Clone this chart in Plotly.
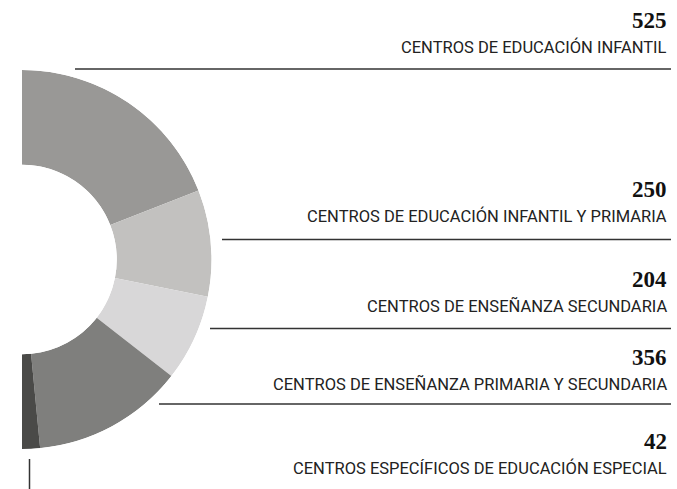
import plotly.graph_objects as go

W, H = 677, 489

labels = [
    'CENTROS DE EDUCACIÓN INFANTIL',
    'CENTROS DE EDUCACIÓN INFANTIL Y PRIMARIA',
    'CENTROS DE ENSEÑANZA SECUNDARIA',
    'CENTROS DE ENSEÑANZA PRIMARIA Y SECUNDARIA',
    'CENTROS ESPECÍFICOS DE EDUCACIÓN ESPECIAL',
]
values = [525, 250, 204, 356, 42]
colors = ['#999896', '#c2c1bf', '#d8d7d8', '#7f7f7d', '#4a4a48']

# label layout (pixel positions of number / caption / rule)
label_y = [20, 189, 279, 357, 441]
rule_y = [69, 239.5, 328.5, 404]
rule_x0 = [75, 222, 210, 159]


def px(x):
    return x / W


def py(y):
    return 1 - y / H


total = sum(values)
widths = [v / total * 180 for v in values]
thetas = []
acc = 0
for w in widths:
    thetas.append(acc + w / 2)
    acc += w

fig = go.Figure(go.Barpolar(
    r=[1] * len(values),
    theta=thetas,
    width=widths,
    marker=dict(color=colors, line=dict(width=0)),
    hoverinfo='skip',
))

fig.update_layout(
    width=W, height=H,
    margin=dict(t=0, r=0, b=0, l=0),
    paper_bgcolor='white',
    plot_bgcolor='white',
    showlegend=False,
    polar=dict(
        domain=dict(x=[px(22), px(211.5)], y=[py(449), py(70)]),
        sector=[-90, 90],
        hole=0.5,
        bgcolor='rgba(0,0,0,0)',
        radialaxis=dict(visible=False, range=[0, 1]),
        angularaxis=dict(
            visible=False, rotation=90, direction='clockwise',
            showgrid=False, showline=False, showticklabels=False, ticks='',
        ),
    ),
)

for v, lab, y in zip(values, labels, label_y):
    fig.add_annotation(
        x=px(669), y=py(y), xref='paper', yref='paper',
        xanchor='right', yanchor='middle', showarrow=False,
        text=f'<b>{v}</b>',
        font=dict(family='Liberation Serif', size=23, color='#111111'),
    )
    fig.add_annotation(
        x=px(669), y=py(y + 27), xref='paper', yref='paper',
        xanchor='right', yanchor='middle', showarrow=False,
        text=lab,
        font=dict(family='Roboto', size=16.5, color='#222222'),
    )

for y, x0 in zip(rule_y, rule_x0):
    fig.add_shape(
        type='line', xref='paper', yref='paper',
        x0=px(x0), x1=px(671), y0=py(y), y1=py(y),
        line=dict(color='#333333', width=1.5),
    )

fig.add_shape(
    type='line', xref='paper', yref='paper',
    x0=px(29.5), x1=px(29.5), y0=py(459), y1=py(489),
    line=dict(color='#333333', width=1.5),
)

fig.write_html('out.html', config={'displayModeBar': False},
               post_script="document.body.style.margin='0';")
